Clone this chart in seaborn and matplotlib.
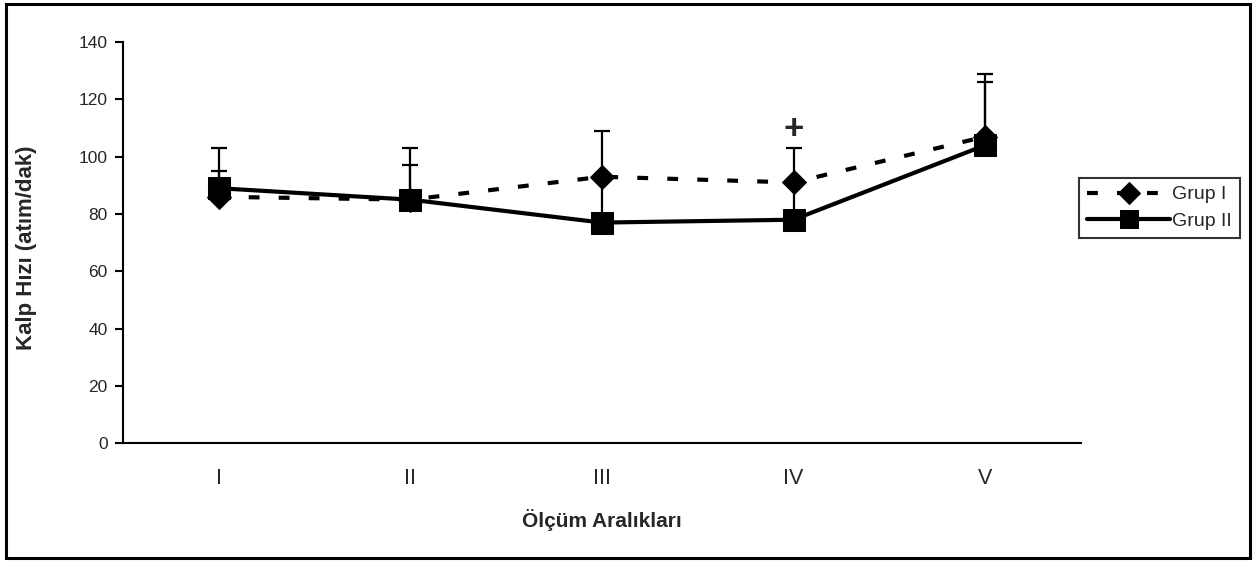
import matplotlib
matplotlib.use("Agg")
import matplotlib.pyplot as plt
import seaborn as sns
import pandas as pd
import numpy as np
from matplotlib.patches import Rectangle

categories = ["I", "II", "III", "IV", "V"]
grup1_mean = [86, 85, 93, 91, 107]
grup1_sd = [9, 12, 16, 12, 22]
grup2_mean = [89, 85, 77, 78, 104]
grup2_sd = [14, 18, 16, 12, 22]
y_ticks = [0, 20, 40, 60, 80, 100, 120, 140]

sns.set_theme(style="white")
plt.rcParams['font.family'] = ['Liberation Sans', 'DejaVu Sans']

fig = plt.figure(figsize=(12.54, 5.61), dpi=100)
ax = fig.add_axes([0.098, 0.21, 0.764, 0.715])

pos = np.arange(len(categories))
df = pd.DataFrame({
    "x": np.concatenate([pos, pos]),
    "y": grup1_mean + grup2_mean,
    "grup": ["Grup I"] * 5 + ["Grup II"] * 5,
})

# error bars (upper only)
ax.errorbar(pos, grup1_mean, yerr=[np.zeros(5), grup1_sd], fmt="none",
            ecolor="black", elinewidth=1.6, capsize=5.5, capthick=1.6, zorder=1)
ax.errorbar(pos, grup2_mean, yerr=[np.zeros(5), grup2_sd], fmt="none",
            ecolor="black", elinewidth=1.6, capsize=5.5, capthick=1.6, zorder=1)

sns.lineplot(data=df[df.grup == "Grup I"], x="x", y="y", ax=ax, color="black",
             lw=3, marker="D", markersize=12, markeredgecolor="black",
             label="Grup I", zorder=3)
ax.lines[-1].set_linestyle((0, (2.6, 4.6)))
sns.lineplot(data=df[df.grup == "Grup II"], x="x", y="y", ax=ax, color="black",
             lw=3, marker="s", markersize=16, markeredgecolor="black",
             label="Grup II", zorder=4)

ax.text(3, 109.5, "+", ha="center", va="center", fontsize=25, fontweight="bold")

ax.set_xlim(-0.5, 4.5)
ax.set_ylim(0, 140)
ax.set_yticks(y_ticks)
ax.set_xticks(pos)
ax.set_xticklabels(categories)
ax.set_xticks(np.arange(-0.5, 5.0, 1.0), minor=True)
ax.tick_params(axis="x", which="major", length=0, pad=18, labelsize=15.5)
ax.tick_params(axis="x", which="minor", length=6, width=1.5, direction="out", color="black")
ax.tick_params(axis="y", length=6, width=1.5, direction="out", color="black",
               labelsize=12.5, left=True, pad=5)
for s in ["top", "right"]:
    ax.spines[s].set_visible(False)
for s in ["left", "bottom"]:
    ax.spines[s].set_color("black")
    ax.spines[s].set_linewidth(1.5)

ax.set_xlabel("Ölçüm Aralıkları", fontsize=15, fontweight="bold", labelpad=14)
ax.set_ylabel("Kalp Hızı (atım/dak)", fontsize=16, fontweight="bold")
ax.yaxis.set_label_coords(-0.09, 0.486)

leg = ax.legend(loc="upper left", bbox_to_anchor=(0.998, 0.661), frameon=True,
                fancybox=False, edgecolor="black", fontsize=14, handlelength=4.3,
                handletextpad=0.1, borderpad=0.4, labelspacing=0.45, borderaxespad=0)
leg.get_frame().set_linewidth(1.5)
hs = leg.legend_handles
hs[0].set_markersize(11)
hs[1].set_markersize(12.5)

fig.patches.append(Rectangle((0.005, 0.006), 0.992, 0.987, transform=fig.transFigure,
                             fill=False, edgecolor="black", linewidth=2.2))

fig.savefig("out.png", dpi=100)
